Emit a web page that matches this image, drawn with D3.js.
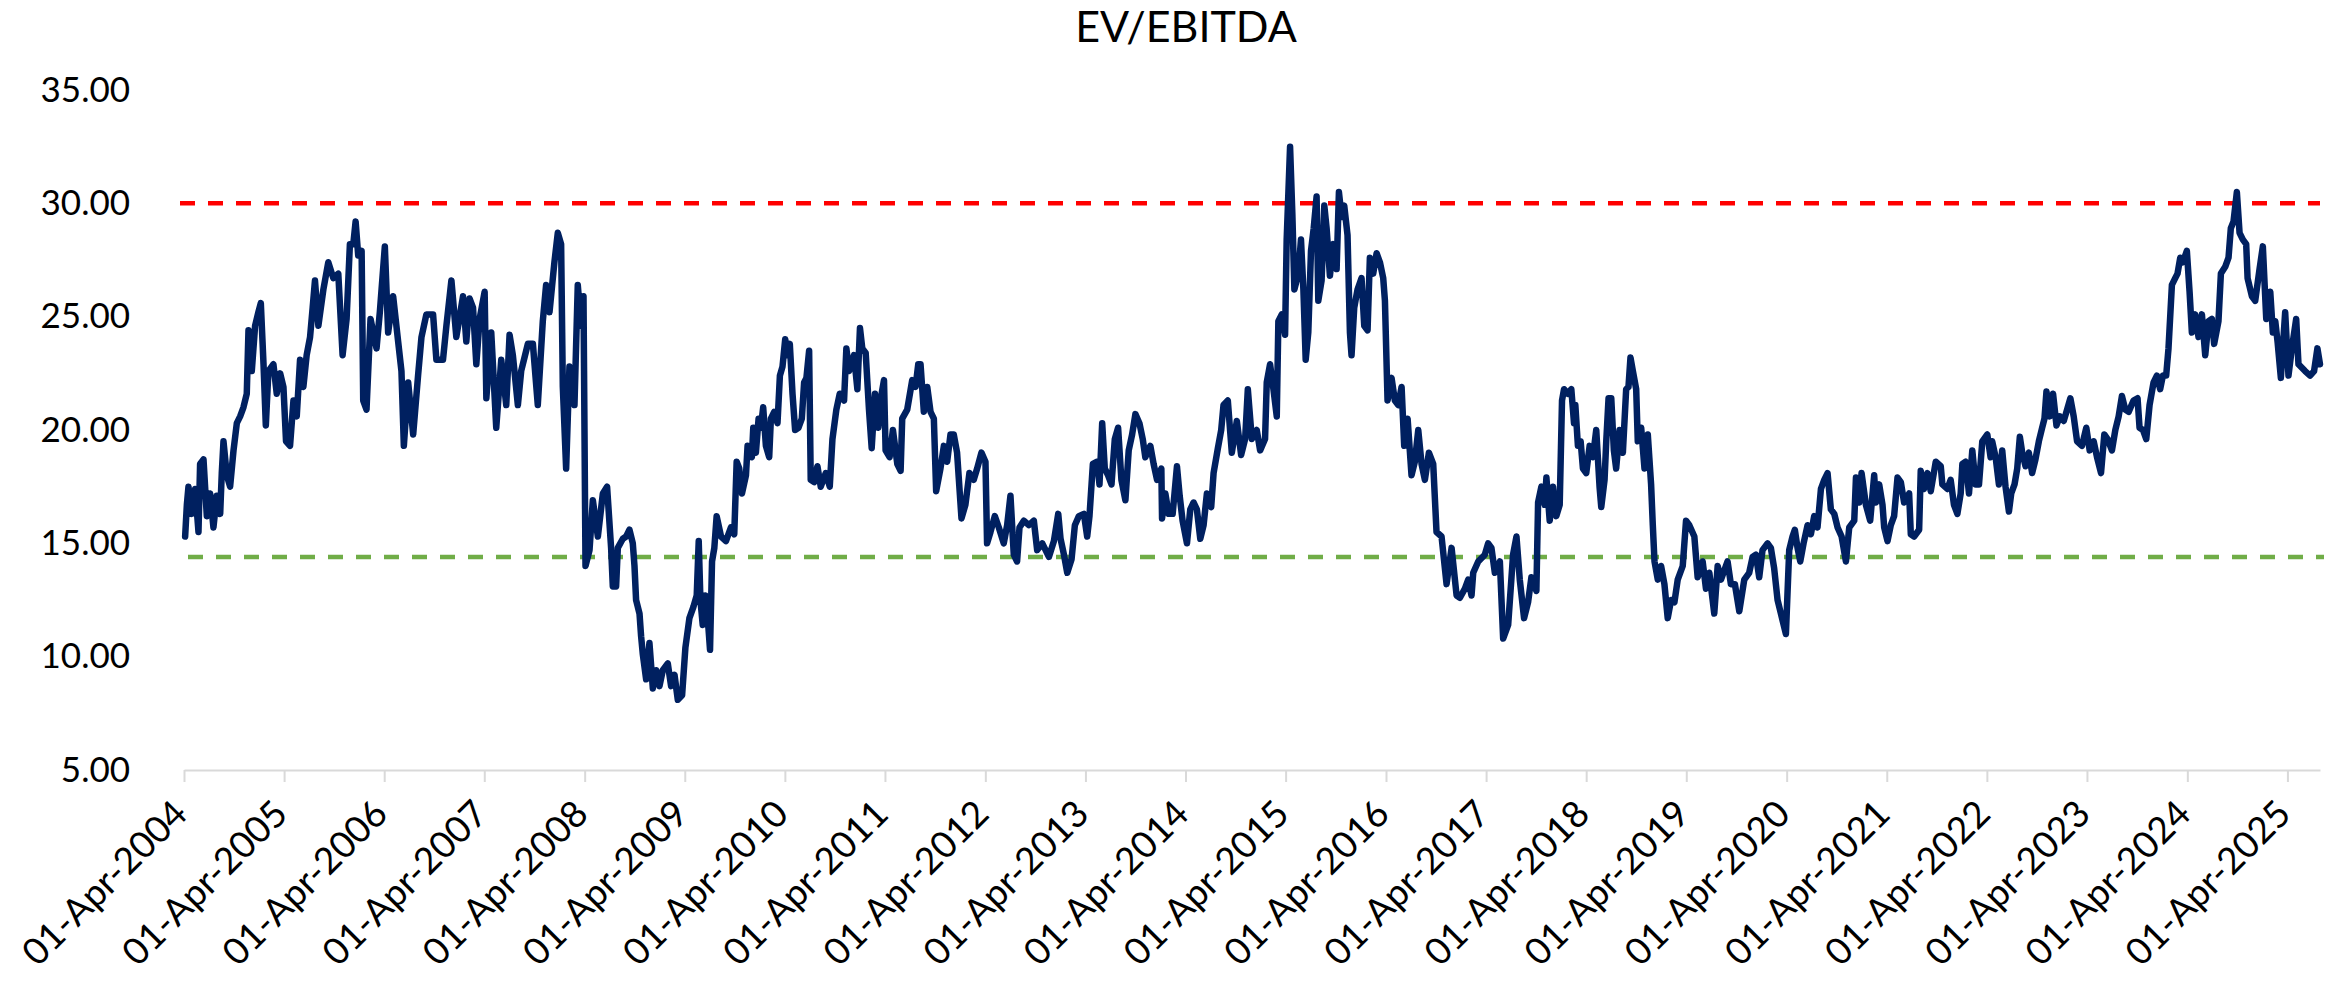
<!DOCTYPE html>
<html>
<head>
<meta charset="utf-8">
<script src="https://cdn.jsdelivr.net/npm/d3@7"></script>
<style>
  body { margin: 0; background: #fff; }
  svg { display: block; }
</style>
</head>
<body>
<script>
  // EV/EBITDA readings, [decimal year, multiple]
  const evApr04toMid08 = [
    [2004.26, 15.3], [2004.277, 16.7], [2004.293, 17.5], [2004.326, 16.3], [2004.36, 17.4], [2004.393, 15.5],
    [2004.409, 18.5], [2004.443, 18.7], [2004.476, 16.2], [2004.509, 17.2], [2004.542, 15.7], [2004.575, 17.1],
    [2004.609, 16.3], [2004.625, 18.1], [2004.642, 19.5], [2004.675, 18.0], [2004.708, 17.5], [2004.742, 19.1],
    [2004.775, 20.3], [2004.808, 20.6], [2004.841, 21.0], [2004.874, 21.6], [2004.891, 24.4], [2004.924, 22.6],
    [2004.957, 24.6], [2004.99, 25.2], [2005.014, 25.6], [2005.041, 22.9], [2005.064, 20.2], [2005.09, 22.6],
    [2005.14, 22.9], [2005.173, 21.6], [2005.207, 22.5], [2005.24, 21.9], [2005.266, 19.5], [2005.306, 19.3],
    [2005.34, 21.3], [2005.373, 20.6], [2005.406, 23.1], [2005.439, 21.9], [2005.472, 23.3], [2005.506, 24.1],
    [2005.532, 25.4], [2005.555, 26.6], [2005.589, 24.6], [2005.639, 26.2], [2005.688, 27.4], [2005.738, 26.7],
    [2005.788, 26.9], [2005.831, 23.3], [2005.871, 24.9], [2005.904, 28.2], [2005.938, 28.2], [2005.961, 29.2],
    [2005.987, 27.7], [2006.021, 27.9], [2006.037, 21.3], [2006.07, 20.9], [2006.11, 24.9], [2006.17, 23.6],
    [2006.203, 25.2], [2006.253, 28.1], [2006.286, 24.3], [2006.336, 25.9], [2006.386, 23.9], [2006.419, 22.6],
    [2006.443, 19.3], [2006.486, 22.1], [2006.536, 19.8], [2006.585, 22.4], [2006.619, 24.1], [2006.668, 25.1],
    [2006.735, 25.1], [2006.768, 23.1], [2006.834, 23.1], [2006.868, 24.6], [2006.918, 26.6], [2006.967, 24.1],
    [2007.034, 25.9], [2007.067, 23.9], [2007.1, 25.8], [2007.134, 25.4], [2007.167, 22.9], [2007.2, 24.9],
    [2007.25, 26.1], [2007.267, 21.4], [2007.316, 24.3], [2007.366, 20.1], [2007.416, 23.1], [2007.466, 21.1],
    [2007.499, 24.2], [2007.532, 23.3], [2007.582, 21.1], [2007.615, 22.6], [2007.682, 23.8], [2007.732, 23.8],
    [2007.781, 21.1], [2007.831, 24.8], [2007.864, 26.4], [2007.898, 25.2], [2007.947, 27.4], [2007.981, 28.7],
    [2008.014, 28.2], [2008.031, 21.9], [2008.064, 18.3], [2008.097, 22.8], [2008.147, 21.1], [2008.18, 26.4],
    [2008.213, 24.6], [2008.237, 25.9], [2008.257, 14.0], [2008.297, 14.7], [2008.33, 16.9], [2008.38, 15.3],
    [2008.43, 17.2], [2008.472, 17.5], [2008.512, 14.8], [2008.529, 13.1], [2008.562, 13.1], [2008.579, 14.8]
  ];

  const evMid08toLate12 = [
    [2008.629, 15.2], [2008.662, 15.3], [2008.695, 15.6], [2008.728, 15.0], [2008.745, 14.0], [2008.761, 12.5],
    [2008.795, 11.9], [2008.811, 10.9], [2008.828, 10.1], [2008.861, 9.0], [2008.894, 10.6], [2008.928, 8.6],
    [2008.961, 9.4], [2008.994, 8.7], [2009.027, 9.4], [2009.077, 9.7], [2009.11, 8.7], [2009.144, 9.2],
    [2009.177, 8.1], [2009.22, 8.3], [2009.253, 10.4], [2009.293, 11.7], [2009.333, 12.2], [2009.366, 12.7],
    [2009.386, 15.1], [2009.403, 12.5], [2009.426, 11.4], [2009.452, 12.7], [2009.476, 11.7], [2009.499, 10.3],
    [2009.519, 14.2], [2009.542, 14.8], [2009.565, 16.2], [2009.609, 15.3], [2009.658, 15.1], [2009.708, 15.7],
    [2009.741, 15.4], [2009.765, 18.6], [2009.791, 18.3], [2009.818, 17.2], [2009.858, 18.0], [2009.874, 19.3],
    [2009.917, 18.8], [2009.931, 20.1], [2009.957, 19.0], [2009.984, 20.5], [2010.007, 20.1], [2010.03, 21.0],
    [2010.057, 19.3], [2010.09, 18.8], [2010.107, 20.5], [2010.14, 20.8], [2010.173, 20.3], [2010.197, 22.4],
    [2010.223, 22.8], [2010.25, 24.0], [2010.273, 23.3], [2010.296, 23.8], [2010.323, 21.6], [2010.349, 20.0],
    [2010.383, 20.1], [2010.416, 20.5], [2010.439, 22.1], [2010.462, 22.3], [2010.489, 23.5], [2010.505, 17.8],
    [2010.539, 17.7], [2010.572, 18.4], [2010.605, 17.5], [2010.655, 18.1], [2010.695, 17.5], [2010.722, 19.6],
    [2010.761, 20.9], [2010.795, 21.6], [2010.838, 21.3], [2010.861, 23.6], [2010.888, 22.6], [2010.937, 23.3],
    [2010.971, 21.8], [2010.997, 24.5], [2011.02, 23.6], [2011.054, 23.4], [2011.087, 20.9], [2011.114, 19.2],
    [2011.147, 21.6], [2011.18, 20.1], [2011.213, 21.6], [2011.237, 22.2], [2011.253, 19.1], [2011.293, 18.8],
    [2011.326, 20.0], [2011.37, 18.5], [2011.403, 18.2], [2011.419, 20.5], [2011.469, 20.9], [2011.519, 22.2],
    [2011.552, 21.9], [2011.579, 22.9], [2011.602, 22.9], [2011.635, 20.8], [2011.669, 21.9], [2011.702, 20.8],
    [2011.735, 20.5], [2011.758, 17.3], [2011.801, 18.3], [2011.835, 19.3], [2011.868, 18.6], [2011.901, 19.8],
    [2011.934, 19.8], [2011.967, 19.0], [2012.011, 16.1], [2012.05, 16.7], [2012.09, 18.1], [2012.133, 17.8],
    [2012.167, 18.3], [2012.21, 19.0], [2012.25, 18.6], [2012.266, 15.0], [2012.3, 15.5], [2012.343, 16.2],
    [2012.383, 15.7], [2012.432, 15.0], [2012.466, 15.8], [2012.499, 17.1], [2012.532, 14.5], [2012.565, 14.2],
    [2012.589, 15.7], [2012.632, 16.0], [2012.682, 15.8], [2012.732, 16.0], [2012.765, 14.7]
  ];

  const evLate12to16 = [
    [2012.816, 15.0], [2012.882, 14.4], [2012.932, 15.1], [2012.975, 16.3], [2012.998, 15.2], [2013.032, 14.5],
    [2013.065, 13.7], [2013.108, 14.3], [2013.141, 15.8], [2013.181, 16.2], [2013.231, 16.3], [2013.264, 15.3],
    [2013.287, 16.2], [2013.321, 18.5], [2013.364, 18.6], [2013.387, 17.6], [2013.414, 20.3], [2013.44, 18.3],
    [2013.473, 18.0], [2013.507, 17.6], [2013.54, 19.6], [2013.573, 20.1], [2013.606, 17.8], [2013.646, 16.9],
    [2013.679, 19.1], [2013.713, 19.8], [2013.746, 20.7], [2013.786, 20.3], [2013.819, 19.6], [2013.845, 18.8],
    [2013.895, 19.3], [2013.928, 18.5], [2013.962, 17.8], [2014.005, 18.3], [2014.012, 16.1], [2014.045, 17.2],
    [2014.078, 16.3], [2014.118, 16.3], [2014.161, 18.4], [2014.188, 17.1], [2014.217, 16.0], [2014.261, 15.0],
    [2014.294, 16.5], [2014.327, 16.8], [2014.36, 16.5], [2014.394, 15.2], [2014.427, 15.8], [2014.46, 17.2],
    [2014.503, 16.6], [2014.527, 18.1], [2014.57, 19.2], [2014.603, 20.0], [2014.626, 21.1], [2014.669, 21.3],
    [2014.709, 19.0], [2014.759, 20.4], [2014.802, 18.9], [2014.842, 19.6], [2014.869, 21.8], [2014.909, 19.6],
    [2014.958, 20.0], [2014.992, 19.1], [2015.041, 19.6], [2015.058, 22.1], [2015.091, 22.9], [2015.125, 21.8],
    [2015.158, 20.6], [2015.174, 24.8], [2015.208, 25.1], [2015.241, 24.2], [2015.257, 28.4], [2015.291, 32.5],
    [2015.314, 29.5], [2015.334, 26.2], [2015.374, 26.9], [2015.4, 28.4], [2015.424, 26.2], [2015.447, 23.1],
    [2015.473, 24.3], [2015.5, 27.9], [2015.527, 28.9], [2015.556, 30.3], [2015.573, 25.7], [2015.606, 26.6],
    [2015.633, 29.9], [2015.656, 28.9], [2015.689, 26.8], [2015.723, 28.2], [2015.756, 27.1], [2015.779, 30.5],
    [2015.806, 29.4], [2015.832, 29.9], [2015.865, 28.6], [2015.889, 24.3], [2015.905, 23.3], [2015.932, 25.4],
    [2015.965, 26.2], [2016.005, 26.7], [2016.032, 24.6], [2016.065, 24.4], [2016.088, 27.6], [2016.121, 26.9],
    [2016.155, 27.8], [2016.188, 27.4], [2016.221, 26.7], [2016.238, 25.7], [2016.264, 21.3], [2016.304, 22.3],
    [2016.337, 21.3], [2016.371, 21.1], [2016.404, 21.9], [2016.43, 19.3], [2016.464, 20.5], [2016.503, 18.0],
    [2016.536, 18.6], [2016.57, 20.0], [2016.603, 18.5], [2016.636, 17.8], [2016.676, 19.0], [2016.719, 18.5],
    [2016.752, 15.5], [2016.802, 15.3], [2016.852, 13.2], [2016.902, 14.8], [2016.952, 12.7]
  ];

  const ev17to21 = [
    [2016.985, 12.6], [2017.035, 13.0], [2017.068, 13.4], [2017.101, 12.7], [2017.118, 13.7], [2017.168, 14.2],
    [2017.234, 14.5], [2017.267, 15.0], [2017.3, 14.8], [2017.334, 13.7], [2017.384, 14.2], [2017.417, 10.8],
    [2017.467, 11.4], [2017.516, 14.5], [2017.55, 15.3], [2017.583, 13.4], [2017.626, 11.7], [2017.666, 12.4],
    [2017.699, 13.5], [2017.749, 12.9], [2017.766, 16.8], [2017.799, 17.5], [2017.832, 16.7], [2017.849, 17.9],
    [2017.882, 16.0], [2017.915, 17.5], [2017.948, 16.2], [2017.982, 16.7], [2018.005, 21.3], [2018.025, 21.8],
    [2018.065, 21.6], [2018.098, 21.8], [2018.125, 20.3], [2018.138, 21.1], [2018.164, 19.3], [2018.191, 19.5],
    [2018.214, 18.3], [2018.247, 18.1], [2018.281, 19.3], [2018.314, 18.8], [2018.347, 20.0], [2018.38, 17.5],
    [2018.397, 16.6], [2018.43, 17.8], [2018.447, 19.5], [2018.47, 21.4], [2018.497, 21.4], [2018.523, 19.1],
    [2018.546, 18.3], [2018.58, 20.0], [2018.613, 19.0], [2018.646, 21.8], [2018.669, 21.9], [2018.689, 23.2],
    [2018.713, 22.6], [2018.746, 21.8], [2018.762, 19.5], [2018.796, 20.1], [2018.829, 18.3], [2018.862, 19.8],
    [2018.895, 17.6], [2018.912, 15.8], [2018.929, 14.2], [2018.962, 13.4], [2018.995, 14.0], [2019.028, 13.2],
    [2019.061, 11.7], [2019.095, 12.5], [2019.128, 12.4], [2019.161, 13.4], [2019.211, 14.0], [2019.244, 16.0],
    [2019.277, 15.8], [2019.327, 15.3], [2019.36, 13.5], [2019.41, 14.2], [2019.443, 13.0], [2019.477, 13.7],
    [2019.526, 11.9], [2019.56, 14.0], [2019.593, 13.4], [2019.659, 14.2], [2019.692, 13.2], [2019.732, 13.2],
    [2019.776, 12.0], [2019.826, 13.4], [2019.875, 13.7], [2019.909, 14.4], [2019.942, 14.5], [2019.975, 13.5],
    [2020.008, 14.7], [2020.058, 15.0], [2020.091, 14.8], [2020.124, 13.9], [2020.158, 12.5], [2020.191, 11.9],
    [2020.241, 11.0], [2020.274, 14.7], [2020.307, 15.3], [2020.33, 15.6], [2020.357, 14.8], [2020.384, 14.2],
    [2020.417, 15.0], [2020.457, 15.8], [2020.49, 15.4], [2020.523, 16.2], [2020.556, 15.7], [2020.59, 17.4],
    [2020.623, 17.8], [2020.656, 18.1], [2020.689, 16.5], [2020.723, 16.3], [2020.756, 15.7], [2020.796, 15.3],
    [2020.839, 14.2], [2020.872, 15.7], [2020.922, 16.0], [2020.939, 17.9], [2020.972, 16.8], [2020.995, 18.1],
    [2021.038, 16.7], [2021.081, 16.0], [2021.121, 18.0]
  ];

  const ev21to25 = [
    [2021.138, 16.8], [2021.171, 17.6], [2021.204, 16.7], [2021.221, 15.7], [2021.254, 15.1], [2021.287, 15.8],
    [2021.32, 16.2], [2021.354, 17.9], [2021.387, 17.7], [2021.42, 16.8], [2021.47, 17.2], [2021.487, 15.4],
    [2021.52, 15.3], [2021.57, 15.6], [2021.586, 18.2], [2021.619, 17.4], [2021.653, 18.1], [2021.686, 17.3],
    [2021.736, 18.6], [2021.786, 18.4], [2021.802, 17.6], [2021.852, 17.4], [2021.885, 17.8], [2021.918, 16.7],
    [2021.952, 16.3], [2021.985, 17.2], [2022.002, 18.5], [2022.035, 18.6], [2022.068, 17.2], [2022.101, 19.1],
    [2022.134, 17.6], [2022.168, 17.6], [2022.201, 19.5], [2022.251, 19.8], [2022.284, 18.8], [2022.3, 19.5],
    [2022.334, 18.8], [2022.367, 17.6], [2022.4, 19.1], [2022.433, 17.5], [2022.467, 16.4], [2022.49, 17.2],
    [2022.523, 17.6], [2022.55, 18.3], [2022.576, 19.7], [2022.6, 19.0], [2022.633, 18.4], [2022.666, 19.0],
    [2022.699, 18.1], [2022.732, 18.7], [2022.766, 19.5], [2022.799, 20.1], [2022.822, 20.5], [2022.842, 21.7],
    [2022.875, 20.6], [2022.908, 21.6], [2022.942, 20.2], [2022.975, 20.6], [2023.015, 20.4], [2023.048, 20.9],
    [2023.081, 21.4], [2023.114, 20.6], [2023.148, 19.5], [2023.197, 19.3], [2023.24, 20.1], [2023.274, 19.1],
    [2023.314, 19.5], [2023.347, 18.8], [2023.387, 18.1], [2023.42, 19.8], [2023.453, 19.6], [2023.496, 19.1],
    [2023.53, 20.0], [2023.563, 20.6], [2023.596, 21.5], [2023.629, 20.9], [2023.663, 20.8], [2023.712, 21.3],
    [2023.752, 21.4], [2023.772, 20.1], [2023.806, 20.0], [2023.839, 19.6], [2023.872, 21.1], [2023.912, 22.1],
    [2023.945, 22.4], [2023.978, 21.8], [2024.005, 22.4], [2024.038, 22.4], [2024.061, 23.6], [2024.095, 26.4],
    [2024.128, 26.7], [2024.151, 26.9], [2024.178, 27.6], [2024.204, 27.4], [2024.244, 27.9], [2024.271, 26.1],
    [2024.294, 24.3], [2024.327, 25.1], [2024.36, 24.1], [2024.394, 25.1], [2024.427, 23.3], [2024.46, 24.8],
    [2024.493, 24.9], [2024.516, 23.8], [2024.559, 24.8], [2024.583, 26.9], [2024.626, 27.2], [2024.659, 27.6],
    [2024.682, 28.9], [2024.709, 29.2], [2024.742, 30.5], [2024.769, 28.7], [2024.802, 28.4], [2024.835, 28.2],
    [2024.849, 26.7], [2024.892, 25.9], [2024.925, 25.7], [2024.968, 27.1], [2025.001, 28.1], [2025.035, 24.9],
    [2025.075, 26.1], [2025.101, 24.3], [2025.125, 24.8], [2025.148, 23.9], [2025.181, 22.3], [2025.224, 25.2],
    [2025.257, 22.4], [2025.291, 23.6], [2025.334, 24.9], [2025.357, 22.9], [2025.423, 22.6], [2025.473, 22.4],
    [2025.513, 22.6], [2025.546, 23.6], [2025.572, 22.9]
  ];

  const tickYears = d3.range(2004, 2026);
  const yTicks = [5, 10, 15, 20, 25, 30, 35];
  const upperBand = 30;
  const lowerBand = 14.4;
  const chartTitle = 'EV/EBITDA';

  const W = 2331, H = 981;
  const margin = { top: 90, right: 11, bottom: 211, left: 184 };
  const width = W - margin.left - margin.right;
  const height = H - margin.top - margin.bottom;
  const font = "'Lato', 'Noto Sans', sans-serif";

  // decimal year -> Date
  function toDate(t) {
    const yr = Math.floor(t);
    const a = new Date(yr, 0, 1), b = new Date(yr + 1, 0, 1);
    return new Date(+a + (t - yr) * (b - a));
  }

  const data = [].concat(evApr04toMid08, evMid08toLate12, evLate12to16, ev17to21, ev21to25)
    .map(d => ({ date: toDate(d[0]), value: d[1] }));

  const x = d3.scaleTime()
    .domain([new Date(2004, 3, 1), data[data.length - 1].date])
    .range([0, width]);

  const y = d3.scaleLinear()
    .domain([5, 35])
    .range([height, 0]);

  const svg = d3.select('body').append('svg')
    .attr('width', W)
    .attr('height', H)
    .style('font-family', font);

  svg.append('text')
    .attr('x', 1186)
    .attr('y', 42)
    .attr('text-anchor', 'middle')
    .attr('font-size', 43)
    .attr('fill', '#000')
    .text(chartTitle);

  const g = svg.append('g')
    .attr('transform', `translate(${margin.left},${margin.top})`);

  // y axis: labels only
  const yAxis = g.append('g')
    .call(d3.axisLeft(y).tickValues(yTicks).tickFormat(d3.format('.2f')).tickSize(0).tickPadding(54));
  yAxis.select('.domain').remove();
  yAxis.selectAll('text')
    .attr('font-size', 35)
    .attr('font-family', font)
    .attr('fill', '#000');

  // x axis
  const xAxis = g.append('g')
    .attr('transform', `translate(0,${height})`)
    .call(d3.axisBottom(x)
      .tickValues(tickYears.map(yr => new Date(yr, 3, 1)))
      .tickFormat(d3.timeFormat('%d-%b-%Y'))
      .tickSize(12)
      .tickSizeOuter(0));
  xAxis.select('.domain').attr('stroke', '#d9d9d9').attr('stroke-width', 2);
  xAxis.selectAll('.tick line').attr('stroke', '#d9d9d9').attr('stroke-width', 2);
  xAxis.selectAll('text')
    .attr('font-size', 37)
    .attr('font-family', font)
    .attr('fill', '#000')
    .attr('text-anchor', 'end')
    .attr('dy', null)
    .attr('y', 0)
    .attr('transform', 'translate(5,46) rotate(-45)');

  // reference bands
  g.append('line')
    .attr('x1', -4).attr('x2', width)
    .attr('y1', y(upperBand)).attr('y2', y(upperBand))
    .attr('stroke', '#ff0000')
    .attr('stroke-width', 4.5)
    .attr('stroke-dasharray', '15 13');

  g.append('line')
    .attr('x1', 4).attr('x2', width + 4)
    .attr('y1', y(lowerBand)).attr('y2', y(lowerBand))
    .attr('stroke', '#70ad47')
    .attr('stroke-width', 4.5)
    .attr('stroke-dasharray', '15 13');

  const line = d3.line()
    .x(d => x(d.date))
    .y(d => y(d.value));

  g.append('path')
    .datum(data)
    .attr('fill', 'none')
    .attr('stroke', '#002060')
    .attr('stroke-width', 6.5)
    .attr('stroke-linejoin', 'round')
    .attr('stroke-linecap', 'round')
    .attr('d', line);
</script>
</body>
</html>
